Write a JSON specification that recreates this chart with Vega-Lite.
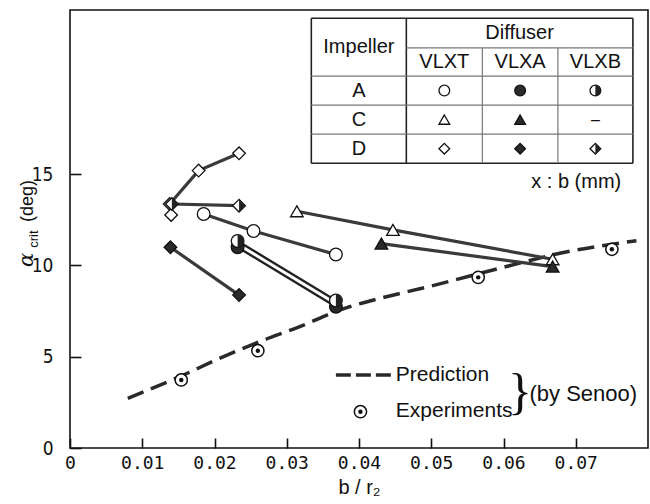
{
  "$schema": "https://vega.github.io/schema/vega-lite/v6.json",
  "width": 578,
  "height": 438,
  "autosize": {"type": "none"},
  "padding": {"left": 70, "top": 10, "right": 2, "bottom": 56},
  "background": "white",
  "config": {
    "view": {"stroke": "#111", "strokeWidth": 1.6},
    "text": {"font": "Liberation Sans", "color": "#111"},
    "axis": {"ticks": true, "tickColor": "#111", "tickWidth": 1.6, "tickOpacity": 1, "gridOpacity": 0, "gridColor": "white"}
  },
  "datasets": {
    "pred": [
      {"x": 0.0080, "y": 2.72}, {"x": 0.0152, "y": 3.91}, {"x": 0.0207, "y": 4.91},
      {"x": 0.0262, "y": 5.82}, {"x": 0.0318, "y": 6.65}, {"x": 0.0373, "y": 7.56},
      {"x": 0.0438, "y": 8.29}, {"x": 0.0490, "y": 8.78}, {"x": 0.0595, "y": 9.85},
      {"x": 0.0678, "y": 10.67}, {"x": 0.0784, "y": 11.36}
    ],
    "predkey": [{"x": 0.0368, "y": 4.0}, {"x": 0.0445, "y": 4.0}],
    "exp": [
      {"x": 0.0154, "y": 3.73}, {"x": 0.0260, "y": 5.33},
      {"x": 0.0565, "y": 9.35}, {"x": 0.0750, "y": 10.89},
      {"x": 0.0402, "y": 1.99}
    ],
    "xticks": [{"x": 0.01}, {"x": 0.02}, {"x": 0.03}, {"x": 0.04}, {"x": 0.05}, {"x": 0.06}, {"x": 0.07}],
    "yticks": [{"y": 5}, {"y": 10}, {"y": 15}],
    "pts": [
      {"series": "A-VLXT", "mk": "circle-open", "role": "data", "x": 0.0185, "y": 12.82},
      {"series": "A-VLXT", "mk": "circle-open", "role": "data", "x": 0.0254, "y": 11.89},
      {"series": "A-VLXT", "mk": "circle-open", "role": "data", "x": 0.0368, "y": 10.60},
      {"series": "A-VLXA", "mk": "circle-filled", "role": "data", "x": 0.0232, "y": 11.00},
      {"series": "A-VLXA", "mk": "circle-filled", "role": "data", "x": 0.0368, "y": 7.74},
      {"series": "A-VLXB", "mk": "circle-half", "role": "data", "x": 0.0232, "y": 11.34},
      {"series": "A-VLXB", "mk": "circle-half", "role": "data", "x": 0.0368, "y": 8.08},
      {"series": "C-VLXT", "mk": "tri-open", "role": "data", "x": 0.0314, "y": 12.97},
      {"series": "C-VLXT", "mk": "tri-open", "role": "data", "x": 0.0447, "y": 11.95},
      {"series": "C-VLXT", "mk": "tri-open", "role": "data", "x": 0.0668, "y": 10.34},
      {"series": "C-VLXA", "mk": "tri-filled", "role": "data", "x": 0.0431, "y": 11.20},
      {"series": "C-VLXA", "mk": "tri-filled", "role": "data", "x": 0.0668, "y": 9.94},
      {"series": "D-VLXT", "mk": "dia-open", "role": "data", "x": 0.0138, "y": 13.37},
      {"series": "D-VLXT", "mk": "dia-open", "role": "data", "x": 0.0178, "y": 15.20},
      {"series": "D-VLXT", "mk": "dia-open", "role": "data", "x": 0.0234, "y": 16.15},
      {"series": "D-VLXT-b", "mk": "dia-open", "role": "data", "x": 0.0140, "y": 12.77},
      {"series": "D-VLXA", "mk": "dia-filled", "role": "data", "x": 0.0139, "y": 11.00},
      {"series": "D-VLXA", "mk": "dia-filled", "role": "data", "x": 0.0234, "y": 8.38},
      {"series": "D-VLXB", "mk": "dia-half", "role": "data", "x": 0.0141, "y": 13.37},
      {"series": "D-VLXB", "mk": "dia-half", "role": "data", "x": 0.0234, "y": 13.28},
      {"series": "k1", "mk": "circle-open", "role": "key", "x": 0.05181, "y": 19.585},
      {"series": "k2", "mk": "circle-filled", "role": "key", "x": 0.0623, "y": 19.585},
      {"series": "k3", "mk": "circle-half", "role": "key", "x": 0.07272, "y": 19.585},
      {"series": "k4", "mk": "tri-open", "role": "key", "x": 0.05181, "y": 17.995},
      {"series": "k5", "mk": "tri-filled", "role": "key", "x": 0.0623, "y": 17.995},
      {"series": "k6", "mk": "dia-open", "role": "key", "x": 0.05181, "y": 16.4},
      {"series": "k7", "mk": "dia-filled", "role": "key", "x": 0.0623, "y": 16.4},
      {"series": "k8", "mk": "dia-half", "role": "key", "x": 0.07272, "y": 16.4}
    ],
    "table": [
      {"kind": "outer", "x": 0.0334, "x2": 0.07791, "y": 23.55, "y2": 23.55},
      {"kind": "outer", "x": 0.0334, "x2": 0.07791, "y": 15.6, "y2": 15.6},
      {"kind": "outer", "x": 0.0334, "x2": 0.0334, "y": 23.55, "y2": 15.6},
      {"kind": "outer", "x": 0.07791, "x2": 0.07791, "y": 23.55, "y2": 15.6},
      {"kind": "outer", "x": 0.04655, "x2": 0.04655, "y": 23.55, "y2": 15.6},
      {"kind": "inner", "x": 0.04655, "x2": 0.07791, "y": 21.93, "y2": 21.93},
      {"kind": "inner", "x": 0.0334, "x2": 0.07791, "y": 20.38, "y2": 20.38},
      {"kind": "inner", "x": 0.0334, "x2": 0.07791, "y": 18.79, "y2": 18.79},
      {"kind": "inner", "x": 0.0334, "x2": 0.07791, "y": 17.2, "y2": 17.2},
      {"kind": "inner", "x": 0.05707, "x2": 0.05707, "y": 21.93, "y2": 15.6},
      {"kind": "inner", "x": 0.06753, "x2": 0.06753, "y": 21.93, "y2": 15.6}
    ],
    "tabletext": [
      {"text": "Impeller", "x": 0.03998, "y": 21.97},
      {"text": "Diffuser", "x": 0.06223, "y": 22.74},
      {"text": "VLXT", "x": 0.05181, "y": 21.155},
      {"text": "VLXA", "x": 0.0623, "y": 21.155},
      {"text": "VLXB", "x": 0.07272, "y": 21.155},
      {"text": "A", "x": 0.03998, "y": 19.585},
      {"text": "C", "x": 0.03998, "y": 17.995},
      {"text": "D", "x": 0.03998, "y": 16.4}
    ],
    "legtext": [
      {"text": "Prediction", "x": 0.0451, "y": 4.0},
      {"text": "Experiments", "x": 0.0451, "y": 2.03}
    ]
  },
  "encoding": {
    "x": {
      "field": "x", "type": "quantitative",
      "scale": {"domain": [0, 0.08], "nice": false, "zero": false},
      "axis": {
        "title": "b / r₂", "titleFont": "Liberation Sans", "titleFontSize": 20, "titleFontWeight": "normal",
        "titleColor": "#111", "titlePadding": 5,
        "values": [0, 0.01, 0.02, 0.03, 0.04, 0.05, 0.06, 0.07],
        "labelExpr": "datum.value == 0 ? '0' : format(datum.value, '.2f')",
        "labelFont": "DejaVu Sans Mono", "labelFontSize": 18, "labelColor": "#111",
        "labelFlush": false, "labelOverlap": false,
        "offset": -10, "domain": false,
        "tickSize": 10, "labelPadding": 6
      }
    },
    "y": {
      "field": "y", "type": "quantitative",
      "scale": {"domain": [0, 24], "nice": false, "zero": false},
      "axis": {
        "title": null,
        "values": [0, 5, 10, 15],
        "labelFont": "Liberation Sans Narrow, DejaVu Sans Condensed, sans-serif", "labelFontSize": 19, "labelColor": "#111",
        "labelOverlap": false,
        "offset": -11, "domain": false,
        "tickSize": 11, "labelPadding": 17
      }
    }
  },
  "layer": [
    {
      "data": {"name": "xticks"},
      "mark": {"type": "rule", "color": "#111", "strokeWidth": 1.6},
      "encoding": {"y": {"datum": 0}, "y2": {"datum": 0.55}}
    },
    {
      "data": {"name": "yticks"},
      "mark": {"type": "rule", "color": "#111", "strokeWidth": 1.6},
      "encoding": {"x": {"datum": 0}, "x2": {"datum": 0.00155}}
    },
    {
      "data": {"name": "pred"},
      "mark": {"type": "line", "color": "#2a2a2a", "strokeWidth": 3.5, "strokeDash": [17, 8], "interpolate": "monotone"}
    },
    {
      "data": {"name": "predkey"},
      "mark": {"type": "line", "color": "#2a2a2a", "strokeWidth": 3.5, "strokeDash": [15, 5]}
    },
    {
      "data": {"name": "pts"},
      "transform": [{"filter": "datum.role == 'data' && datum.series != 'A-VLXA' && datum.series != 'A-VLXB'"}],
      "mark": {"type": "line", "color": "#3a3a3a", "strokeWidth": 3.2},
      "encoding": {"detail": {"field": "series"}}
    },
    {
      "data": {"name": "pts"},
      "transform": [{"filter": "datum.series == 'A-VLXA' || datum.series == 'A-VLXB'"}],
      "mark": {"type": "line", "color": "#222", "strokeWidth": 2.4},
      "encoding": {"detail": {"field": "series"}}
    },
    {
      "data": {"name": "pts"},
      "mark": {"type": "point", "filled": true, "opacity": 1, "stroke": "#111", "strokeWidth": 1.3},
      "encoding": {
        "shape": {"field": "mk", "type": "nominal", "legend": null,
          "scale": {"domain": ["circle-open", "circle-filled", "circle-half", "tri-open", "tri-filled", "dia-open", "dia-filled", "dia-half"],
                    "range": ["circle", "circle", "circle", "triangle-up", "triangle-up", "diamond", "diamond", "diamond"]}},
        "fill": {"field": "mk", "type": "nominal", "legend": null,
          "scale": {"domain": ["circle-open", "circle-filled", "circle-half", "tri-open", "tri-filled", "dia-open", "dia-filled", "dia-half"],
                    "range": ["white", "#2a2a2a", "white", "white", "#2a2a2a", "white", "#2a2a2a", "white"]}},
        "size": {"field": "role", "type": "nominal", "legend": null,
          "scale": {"domain": ["data", "key"], "range": [160, 115]}}
      }
    },
    {
      "data": {"name": "pts"},
      "transform": [{"filter": "datum.mk == 'circle-half'"}],
      "mark": {"type": "point", "filled": true, "opacity": 1, "color": "#222", "shape": "M0,-1A1,1,0,0,1,0,1Z"},
      "encoding": {
        "size": {"field": "role", "type": "nominal", "legend": null,
          "scale": {"domain": ["data", "key"], "range": [160, 115]}}
      }
    },
    {
      "data": {"name": "pts"},
      "transform": [{"filter": "datum.mk == 'dia-half'"}],
      "mark": {"type": "point", "filled": true, "opacity": 1, "color": "#222", "shape": "M0,-1L1,0L0,1Z"},
      "encoding": {
        "size": {"field": "role", "type": "nominal", "legend": null,
          "scale": {"domain": ["data", "key"], "range": [160, 115]}}
      }
    },
    {
      "data": {"name": "exp"},
      "mark": {"type": "point", "shape": "circle", "filled": false, "fill": "white", "fillOpacity": 1, "stroke": "#111", "strokeWidth": 1.5, "size": 150, "opacity": 1}
    },
    {
      "data": {"name": "exp"},
      "mark": {"type": "point", "shape": "circle", "filled": true, "color": "#111", "size": 20, "opacity": 1}
    },
    {
      "data": {"name": "table"},
      "mark": {"type": "rule"},
      "encoding": {
        "x2": {"field": "x2"},
        "y2": {"field": "y2"},
        "strokeWidth": {"field": "kind", "type": "nominal", "legend": null, "scale": {"domain": ["outer", "inner"], "range": [1.6, 1.2]}},
        "color": {"field": "kind", "type": "nominal", "legend": null, "scale": {"domain": ["outer", "inner"], "range": ["#222", "#777"]}}
      }
    },
    {
      "data": {"name": "tabletext"},
      "mark": {"type": "text", "fontSize": 20, "align": "center", "baseline": "middle"},
      "encoding": {"text": {"field": "text"}}
    },
    {
      "data": {"values": [{"text": "–", "x": 0.07272, "y": 18.0}]},
      "mark": {"type": "text", "fontSize": 16, "align": "center", "baseline": "middle"},
      "encoding": {"text": {"field": "text"}}
    },
    {
      "data": {"values": [{"text": "x : b (mm)", "x": 0.0763, "y": 14.59}]},
      "mark": {"type": "text", "fontSize": 20, "align": "right", "baseline": "middle"},
      "encoding": {"text": {"field": "text"}}
    },
    {
      "data": {"name": "legtext"},
      "mark": {"type": "text", "fontSize": 21, "align": "left", "baseline": "middle"},
      "encoding": {"text": {"field": "text"}}
    },
    {
      "data": {"values": [{"text": "(by Senoo)", "x": 0.0636, "y": 2.95}]},
      "mark": {"type": "text", "fontSize": 22, "align": "left", "baseline": "middle"},
      "encoding": {"text": {"field": "text"}}
    },
    {
      "data": {"values": [{"text": "}", "x": 0.0623, "y": 3.0}]},
      "mark": {"type": "text", "fontSize": 50, "font": "Liberation Serif", "align": "center", "baseline": "middle"},
      "encoding": {"text": {"field": "text"}}
    },
    {
      "data": {"values": [{"text": "α", "x": -0.00594, "y": 10.3}]},
      "mark": {"type": "text", "fontSize": 21, "font": "DejaVu Serif", "fontStyle": "italic", "angle": 270, "align": "center", "baseline": "middle"},
      "encoding": {"text": {"field": "text"}}
    },
    {
      "data": {"values": [{"text": "crit", "x": -0.00497, "y": 11.45}]},
      "mark": {"type": "text", "fontSize": 13, "angle": 270, "align": "center", "baseline": "middle"},
      "encoding": {"text": {"field": "text"}}
    },
    {
      "data": {"values": [{"text": "(deg)", "x": -0.00587, "y": 13.53}]},
      "mark": {"type": "text", "fontSize": 18, "angle": 270, "align": "center", "baseline": "middle"},
      "encoding": {"text": {"field": "text"}}
    }
  ]
}
